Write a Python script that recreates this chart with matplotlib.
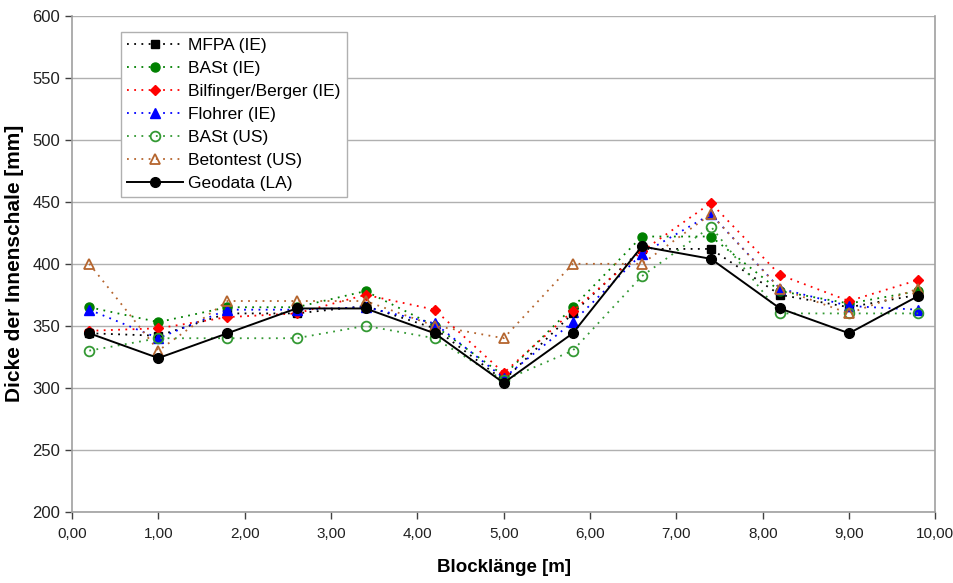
import matplotlib.pyplot as plt
import numpy as np

# Blocklänge [m]
x = [0.2, 1.0, 1.8, 2.6, 3.4, 4.2, 5.0, 5.8, 6.6, 7.4, 8.2, 9.0, 9.8]

mfpa_ie = [344, 342, 360, 360, 366, 348, 306, 360, 412, 412, 375, 365, 375]
bast_ie = [365, 353, 365, 365, 378, 350, 310, 365, 422, 422, 378, 368, 378]
bilfinger_ie = [346, 348, 357, 360, 375, 363, 312, 362, 410, 449, 391, 370, 387]
flohrer_ie = [363, 340, 363, 363, 365, 352, 308, 353, 408, 440, 380, 366, 363]
bast_us = [330, 340, 340, 340, 350, 340, 306, 330, 390, 430, 360, 360, 360]
betontest_us = [400, 330, 370, 370, 370, 350, 340, 400, 400, 440, 380, 360, 380]
geodata_la = [344, 324, 344, 364, 364, 344, 304, 344, 414, 404, 364, 344, 374]

x_ticks = [0, 1, 2, 3, 4, 5, 6, 7, 8, 9, 10]
x_tick_labels = ["0,00", "1,00", "2,00", "3,00", "4,00", "5,00",
                 "6,00", "7,00", "8,00", "9,00", "10,00"]
y_ticks = [200, 250, 300, 350, 400, 450, 500, 550, 600]

plt.rcParams['font.family'] = ['Liberation Sans', 'DejaVu Sans']

fig = plt.figure(figsize=(9.54, 5.83), dpi=100)
ax = fig.add_axes([0.0755, 0.122, 0.905, 0.851])

dot = (0, (1, 3))
ax.plot(x, mfpa_ie, linestyle=dot, color='black', lw=1.3, marker='s', ms=6,
        label='MFPA (IE)')
ax.plot(x, bast_ie, linestyle=dot, color='#008000', lw=1.3, marker='o', ms=6.5,
        label='BASt (IE)')
ax.plot(x, bilfinger_ie, linestyle=dot, color='#ff0000', lw=1.3, marker='D', ms=5.5,
        label='Bilfinger/Berger (IE)')
ax.plot(x, flohrer_ie, linestyle=dot, color='#0000ff', lw=1.3, marker='^', ms=6.5,
        label='Flohrer (IE)')
ax.plot(x, bast_us, linestyle=dot, color='#339933', lw=1.3, marker='o', ms=7,
        mfc='none', mew=1.3, label='BASt (US)')
ax.plot(x, betontest_us, linestyle=dot, color='#b5652e', lw=1.3, marker='^', ms=7,
        mfc='none', mew=1.3, label='Betontest (US)')
ax.plot(x, geodata_la, linestyle='-', color='black', lw=1.4, marker='o', ms=7,
        label='Geodata (LA)')

ax.set_xlim(0, 10)
ax.set_ylim(200, 600)
ax.set_xticks(x_ticks)
ax.set_xticklabels(x_tick_labels, fontsize=11)
ax.set_yticks(y_ticks)
ax.tick_params(axis='y', labelsize=12, colors='#404040', length=5, width=1)
ax.tick_params(axis='x', colors='#404040', length=5, width=1, pad=6)
for lbl in ax.get_xticklabels():
    lbl.set_color('#202020')
for lbl in ax.get_yticklabels():
    lbl.set_color('#202020')

ax.grid(axis='y', color='#b0b0b0', lw=1)
ax.set_axisbelow(True)
for side in ['left', 'bottom', 'right']:
    ax.spines[side].set_color('#a0a0a0')
    ax.spines[side].set_linewidth(1.2)
ax.spines['top'].set_visible(False)

ax.set_xlabel('Blocklänge [m]', fontsize=13.5, fontweight='bold', labelpad=13)
ax.set_ylabel('Dicke der Innenschale [mm]', fontsize=15, fontweight='bold', labelpad=6)

leg = ax.legend(loc='upper left', bbox_to_anchor=(0.047, 0.985), fontsize=12.5,
                frameon=True, fancybox=False, edgecolor='#b0b0b0', framealpha=1,
                handlelength=3.2, handletextpad=0.3, labelspacing=0.45,
                borderpad=0.35)
leg.get_frame().set_linewidth(1)

fig.savefig('out.png', dpi=100)
